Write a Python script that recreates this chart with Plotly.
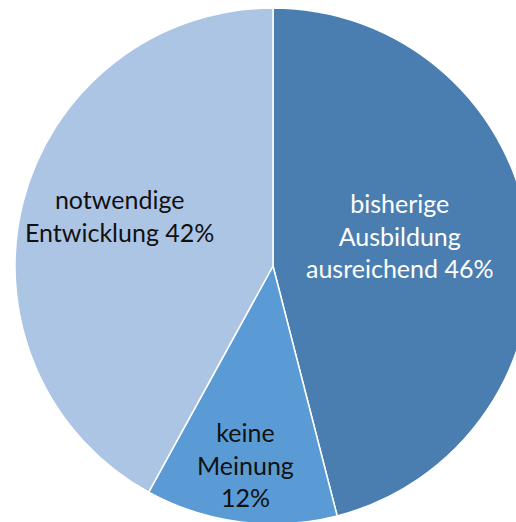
import plotly.graph_objects as go

# Data
labels = ["bisherige Ausbildung ausreichend", "keine Meinung", "notwendige Entwicklung"]
label_lines = ["bisherige<br>Ausbildung<br>ausreichend", "keine<br>Meinung", "notwendige<br>Entwicklung"]
pct_sep = [" ", "<br>", " "]
values = [46, 12, 42]
colors = ["#4a7eb0", "#5b9bd5", "#adc5e5"]
text_colors = ["#ffffff", "#111111", "#111111"]
# label anchor positions (paper coordinates)
label_x = [0.745, 0.447, 0.203]
label_y = [0.560, 0.116, 0.598]

fig = go.Figure(go.Pie(
    labels=labels,
    values=values,
    sort=False,
    direction="clockwise",
    rotation=0,
    marker=dict(colors=colors, line=dict(color="#ffffff", width=1.5)),
    textinfo="none",
    hoverinfo="label+percent",
    showlegend=False,
    domain=dict(x=[0, 1], y=[0, 1]),
))

for i, lab in enumerate(label_lines):
    fig.add_annotation(
        x=label_x[i], y=label_y[i], xref="paper", yref="paper",
        text=f"{lab}{pct_sep[i]}{values[i]}%",
        showarrow=False, xanchor="center", yanchor="middle",
        font=dict(family="Lato, Carlito, Calibri, sans-serif", size=25, color=text_colors[i]),
    )

fig.update_layout(
    width=531, height=524,
    margin=dict(l=15, r=0, t=8, b=0, pad=0),
    paper_bgcolor="#ffffff",
    plot_bgcolor="#ffffff",
)

fig.write_html(
    "out.html",
    config={"displayModeBar": False},
    post_script="document.body.style.margin='0';document.body.style.overflow='hidden';document.documentElement.style.overflow='hidden';",
)
